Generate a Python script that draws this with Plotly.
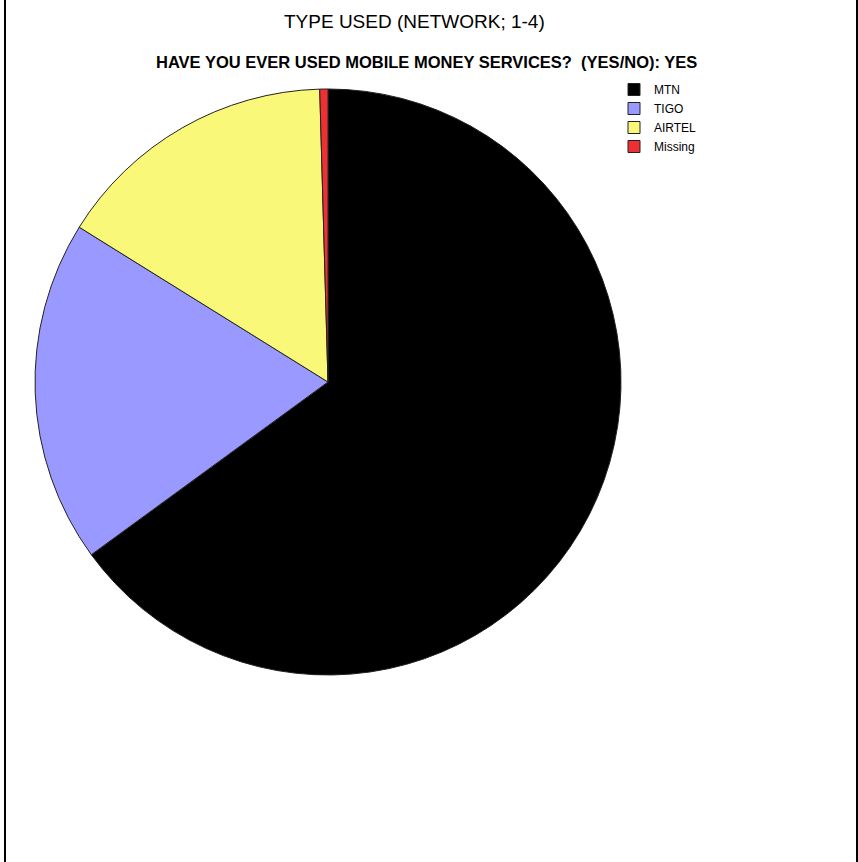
import plotly.graph_objects as go

labels = ["MTN", "TIGO", "AIRTEL", "Missing"]
values = [65.0, 18.9, 15.7, 0.45]
colors = ["#000000", "#9999FF", "#FAF878", "#EE3035"]

title_main = "TYPE USED (NETWORK; 1-4)"
title_sub = "HAVE YOU EVER USED MOBILE MONEY SERVICES?  (YES/NO): YES"

W, H = 858, 862
cx, cy, r = 328, 382, 293

fig = go.Figure(go.Pie(
    labels=labels,
    values=values,
    sort=False,
    direction="clockwise",
    rotation=0,
    marker=dict(colors=colors, line=dict(color="#222222", width=1)),
    textinfo="none",
    hoverinfo="label+percent",
    domain=dict(x=[(cx - r) / W, (cx + r) / W], y=[(H - cy - r) / H, (H - cy + r) / H]),
))

fig.update_layout(
    width=W, height=H,
    margin=dict(l=0, r=0, t=0, b=0),
    paper_bgcolor="white",
    plot_bgcolor="white",
    showlegend=True,
    legend=dict(
        x=614 / W, y=1 - 75 / H, xanchor="left", yanchor="top",
        font=dict(family="Liberation Sans, Arial, sans-serif", size=12, color="#000"),
        bgcolor="rgba(0,0,0,0)", tracegroupgap=0, itemwidth=30,
    ),
    annotations=[
        dict(text=title_main, x=414 / W, y=1 - 21 / H, xref="paper", yref="paper",
             showarrow=False, xanchor="center", yanchor="middle",
             font=dict(family="Liberation Sans, Arial", size=19, color="#000")),
        dict(text="<b>" + title_sub + "</b>", x=426 / W, y=1 - 62 / H, xref="paper", yref="paper",
             showarrow=False, xanchor="center", yanchor="middle",
             font=dict(family="Liberation Sans, Arial", size=16.5, color="#000")),
    ],
    shapes=[
        dict(type="line", xref="paper", yref="paper", x0=5 / W, x1=5 / W, y0=0, y1=1,
             line=dict(color="black", width=2)),
        dict(type="line", xref="paper", yref="paper", x0=857 / W, x1=857 / W, y0=0, y1=1,
             line=dict(color="black", width=2)),
    ],
)

fig.write_html("out.html")
